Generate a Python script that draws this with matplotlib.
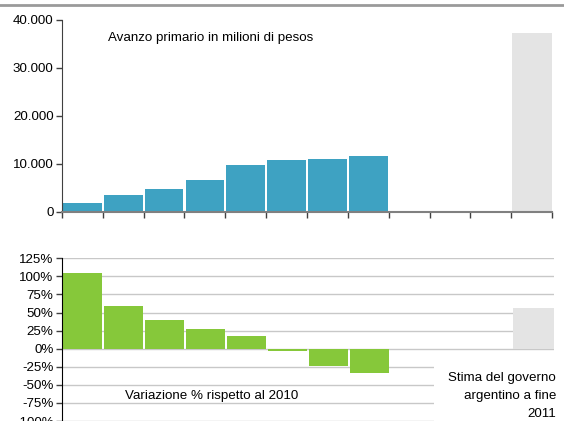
import matplotlib
matplotlib.use("Agg")
import matplotlib.pyplot as plt
from matplotlib.lines import Line2D
from matplotlib.patches import Rectangle
import numpy as np

plt.rcParams['font.family'] = ['Liberation Sans', 'DejaVu Sans']

# Data
categories = list(range(12))
surplus = [1900, 3500, 4800, 6700, 9800, 10800, 11000, 11700, 0, 0, 0, 0]
surplus_estimate = [0, 0, 0, 0, 0, 0, 0, 0, 0, 0, 0, 37300]
variation = [104, 59, 40, 27, 18, -3, -24, -34, 0, 0, 0, 0]
variation_estimate = [0, 0, 0, 0, 0, 0, 0, 0, 0, 0, 0, 56]
top_ticks = [0, 10000, 20000, 30000, 40000]
top_ticklabels = ['0', '10.000', '20.000', '30.000', '40.000']
bot_ticks = [-100, -75, -50, -25, 0, 25, 50, 75, 100, 125]
bot_ticklabels = ['-100%', '-75%', '-50%', '-25%', '0%', '25%', '50%', '75%', '100%', '125%']

W, H = 564, 421
fig = plt.figure(figsize=(W / 100, H / 100), dpi=100)

def fx(px):
    return px / W

def fy(py):
    return 1 - py / H

blue = '#3EA2C2'
green = '#86C83A'
grey = '#E4E4E4'
FS = 9.6

# Top rule line
fig.add_artist(Line2D([0, fx(563)], [fy(5), fy(5)], color='#9A9A9A', lw=2))

# Top axes
ax1 = fig.add_axes([fx(62), fy(212), fx(552) - fx(62), fy(20) - fy(212)])
x = np.array(categories)
ax1.bar(x, surplus, width=0.95, color=blue, edgecolor='none')
ax1.bar(x, surplus_estimate, width=0.98, color=grey, edgecolor='none')
ax1.set_xlim(-0.5, 11.5)
ax1.set_ylim(0, 40000)
ax1.set_yticks(top_ticks)
ax1.set_yticklabels(top_ticklabels, fontsize=FS)
ax1.set_xticks(np.arange(-0.5, 12, 1))
ax1.set_xticklabels([])
ax1.tick_params(axis='x', direction='out', length=4, color='#404040', width=1)
ax1.tick_params(axis='y', direction='out', length=4, color='#404040', width=1, pad=2)
for s in ['top', 'right']:
    ax1.spines[s].set_visible(False)
ax1.spines['left'].set_color('#404040')
ax1.spines['bottom'].set_color('#808080')
ax1.spines['bottom'].set_linewidth(1.5)
ax1.text(0.094, 0.906, 'Avanzo primario in milioni di pesos', transform=ax1.transAxes,
         fontsize=FS, ha='left', va='center')

# Bottom axes
ax2 = fig.add_axes([fx(62), 0, fx(554) - fx(62), fy(258.3)])
ax2.set_axisbelow(True)
ax2.bar(x, variation, width=0.95, color=green, edgecolor='none')
ax2.bar(x, variation_estimate, width=0.98, color=grey, edgecolor='none')
ax2.set_xlim(-0.5, 11.5)
ax2.set_ylim(-100, 125)
ax2.set_yticks(bot_ticks)
ax2.set_yticklabels(bot_ticklabels, fontsize=FS)
ax2.set_xticks([])
ax2.yaxis.grid(True, color='#C8C8C8', lw=1)
ax2.tick_params(axis='y', direction='out', length=4, color='#404040', width=1, pad=2)
for s in ['top', 'right', 'bottom']:
    ax2.spines[s].set_visible(False)
ax2.spines['left'].set_color('#000000')
ax2.text(1.04, -66, 'Variazione % rispetto al 2010', fontsize=FS, ha='left', va='center')

# White text box for the estimate note
fig.add_artist(Rectangle((fx(434), 0), fx(564) - fx(434), fy(364), transform=fig.transFigure,
                         facecolor='white', edgecolor='none', zorder=5))
fig.text(fx(556), fy(396), 'Stima del governo\nargentino a fine\n2011', fontsize=FS,
         ha='right', va='center', multialignment='right', linespacing=1.65, zorder=6)

fig.savefig('out.png', dpi=100)
